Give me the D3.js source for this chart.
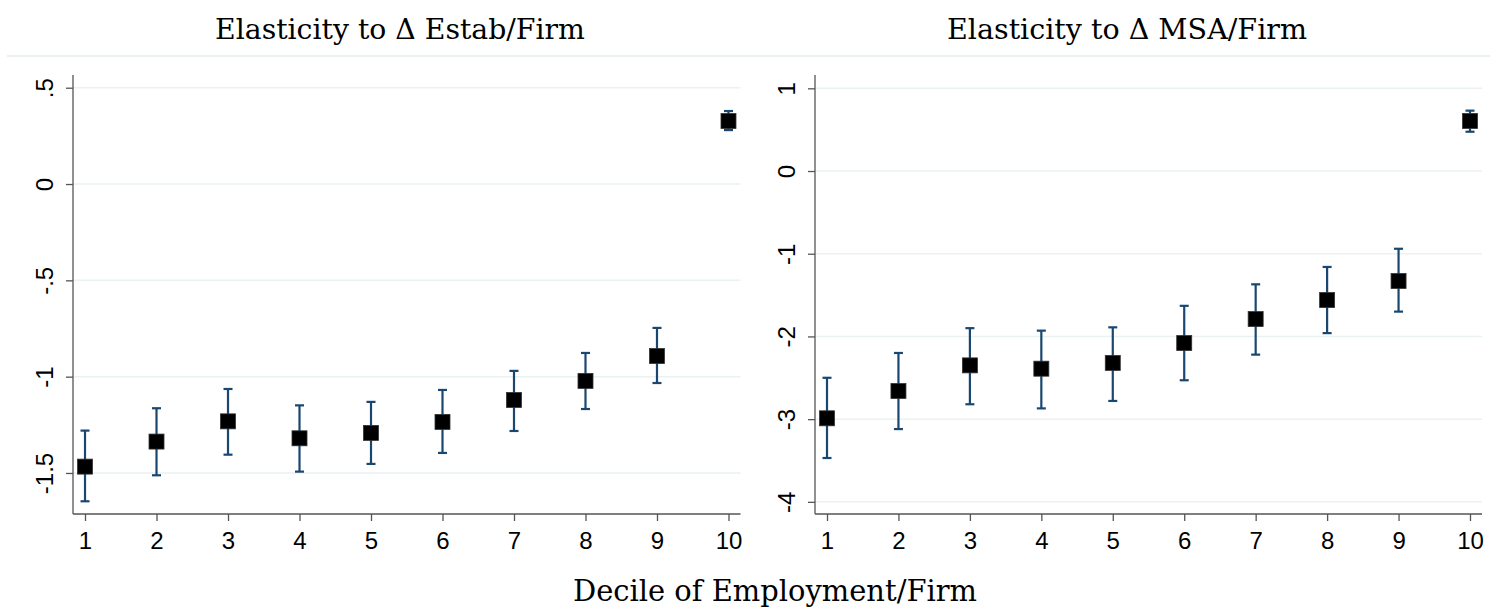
<!DOCTYPE html>
<html>
<head>
<meta charset="utf-8">
<script src="https://cdn.jsdelivr.net/npm/d3@7"></script>
<style>
  body { margin: 0; background: #fff; }
</style>
</head>
<body>
<div id="main"></div>
<script>
// deciles
const deciles = [1, 2, 3, 4, 5, 6, 7, 8, 9, 10];

// left panel: elasticity to change in estab/firm
const estabCoef = [-1.467, -1.337, -1.232, -1.320, -1.292, -1.235, -1.121, -1.022, -0.893, 0.327];
const estabHi   = [-1.280, -1.164, -1.064, -1.149, -1.131, -1.069, -0.970, -0.877, -0.747, 0.379];
const estabLo   = [-1.647, -1.512, -1.405, -1.493, -1.453, -1.396, -1.282, -1.168, -1.033, 0.280];
const estabTicks = [0.5, 0, -0.5, -1, -1.5];
const estabTickLabels = [".5", "0", "-.5", "-1", "-1.5"];

// right panel: elasticity to change in MSA/firm
const msaCoef = [-2.99, -2.66, -2.35, -2.39, -2.32, -2.08, -1.79, -1.56, -1.33, 0.605];
const msaHi   = [-2.50, -2.20, -1.90, -1.93, -1.89, -1.63, -1.37, -1.16, -0.94, 0.73];
const msaLo   = [-3.47, -3.12, -2.82, -2.87, -2.78, -2.53, -2.22, -1.96, -1.70, 0.475];
const msaTicks = [1, 0, -1, -2, -3, -4];
const msaTickLabels = ["1", "0", "-1", "-2", "-3", "-4"];

const titles = ["Elasticity to \u0394 Estab/Firm", "Elasticity to \u0394 MSA/Firm"];
const xTitle = "Decile of Employment/Firm";

const ctx = {
  w: 1491,
  h: 608,
  top: 75,
  bottom: 514,
  MARKER: 15,
  CAP: 9,
  BAR_COLOR: "#1a476f",
  GRID_COLOR: "#eaf2f3",
  AXIS_COLOR: "#555",
  LAB_FONT: '"Liberation Sans", Arial, sans-serif',
  SERIF: '"DejaVu Serif", serif',
};

const panels = [
  { x0: 73, x1: 740.5, domain: [-1.713, 0.566], coef: estabCoef, hi: estabHi, lo: estabLo,
    ticks: estabTicks, labels: estabTickLabels, title: titles[0], titleX: 400 },
  { x0: 815, x1: 1482, domain: [-4.147, 1.161], coef: msaCoef, hi: msaHi, lo: msaLo,
    ticks: msaTicks, labels: msaTickLabels, title: titles[1], titleX: 1127 },
];

// size serif text so it spans the width seen in the picture
function fitText(sel, targetW) {
  sel.style("font-size", "30px");
  let w = sel.node().getComputedTextLength();
  sel.style("font-size", (30 * targetW / w).toFixed(2) + "px");
}

function labelStyle(sel) {
  sel.attr("font-family", ctx.LAB_FONT)
     .attr("font-size", 24)
     .style("font-family", ctx.LAB_FONT)
     .style("font-size", "24px")
     .attr("fill", "#000");
}

function drawPanel(svg, p) {
  const x = d3.scaleLinear().domain([0.832, 10.168]).range([p.x0, p.x1]);
  const y = d3.scaleLinear().domain(p.domain).range([ctx.bottom, ctx.top]);
  const g = svg.append("g");

  // grid
  g.append("g").selectAll("line")
    .data(p.ticks)
    .enter()
    .append("line")
    .attr("x1", p.x0).attr("x2", p.x1)
    .attr("y1", d => y(d)).attr("y2", d => y(d))
    .attr("stroke", ctx.GRID_COLOR)
    .attr("stroke-width", 1.5);

  // y axis
  const yAxis = d3.axisLeft(y).tickValues(p.ticks).tickSize(7).tickFormat((d, i) => p.labels[i]);
  const ya = g.append("g").attr("transform", `translate(${p.x0},0)`).call(yAxis);
  ya.attr("font-size", null).attr("font-family", null);
  ya.select(".domain").attr("d", `M0,${ctx.top}V${ctx.bottom}`);
  ya.selectAll("line, path").attr("stroke", ctx.AXIS_COLOR).attr("stroke-width", 1.3);
  ya.selectAll("text")
    .call(labelStyle)
    .attr("x", 0).attr("y", 0)
    .attr("dy", null)
    .attr("text-anchor", "middle")
    .attr("transform", "translate(-20,0) rotate(-90)");

  // x axis
  const xAxis = d3.axisBottom(x).tickValues(deciles).tickSize(7).tickFormat(d3.format("d"));
  const xa = g.append("g").attr("transform", `translate(0,${ctx.bottom})`).call(xAxis);
  xa.attr("font-size", null).attr("font-family", null);
  xa.select(".domain").attr("d", `M${p.x0},0H${p.x1}`);
  xa.selectAll("line, path").attr("stroke", ctx.AXIS_COLOR).attr("stroke-width", 1.3);
  xa.selectAll("text").call(labelStyle).attr("y", 35).attr("dy", null);

  // error bars
  const bars = g.append("g").attr("stroke", ctx.BAR_COLOR).attr("stroke-width", 2.2).attr("fill", "none");
  deciles.forEach((d, i) => {
    const cx = x(d);
    bars.append("line").attr("x1", cx).attr("x2", cx).attr("y1", y(p.hi[i])).attr("y2", y(p.lo[i]));
    bars.append("line").attr("x1", cx - ctx.CAP / 2).attr("x2", cx + ctx.CAP / 2).attr("y1", y(p.hi[i])).attr("y2", y(p.hi[i]));
    bars.append("line").attr("x1", cx - ctx.CAP / 2).attr("x2", cx + ctx.CAP / 2).attr("y1", y(p.lo[i])).attr("y2", y(p.lo[i]));
  });

  // markers
  g.append("g").selectAll("rect")
    .data(deciles)
    .enter()
    .append("rect")
    .attr("x", d => x(d) - ctx.MARKER / 2)
    .attr("y", (d, i) => y(p.coef[i]) - ctx.MARKER / 2)
    .attr("width", ctx.MARKER)
    .attr("height", ctx.MARKER)
    .attr("fill", "#000")
    .attr("stroke", "#333")
    .attr("stroke-width", 0.8);

  // title
  const t = svg.append("text")
    .style("font-family", ctx.SERIF)
    .attr("x", p.titleX).attr("y", 39)
    .attr("text-anchor", "middle")
    .text(p.title);
  fitText(t, p.title === titles[0] ? 370 : 360);
}

function createViz() {
  const svg = d3.select("#main").append("svg")
    .attr("width", ctx.w)
    .attr("height", ctx.h);

  svg.append("line")
    .attr("x1", 7).attr("x2", 1490)
    .attr("y1", 56).attr("y2", 56)
    .attr("stroke", "#e6eef0")
    .attr("stroke-width", 1.5);

  panels.forEach(p => drawPanel(svg, p));

  const xt = svg.append("text")
    .style("font-family", ctx.SERIF)
    .attr("x", 775).attr("y", 601)
    .attr("text-anchor", "middle")
    .text(xTitle);
  fitText(xt, 404);
}

createViz();
</script>
</body>
</html>
